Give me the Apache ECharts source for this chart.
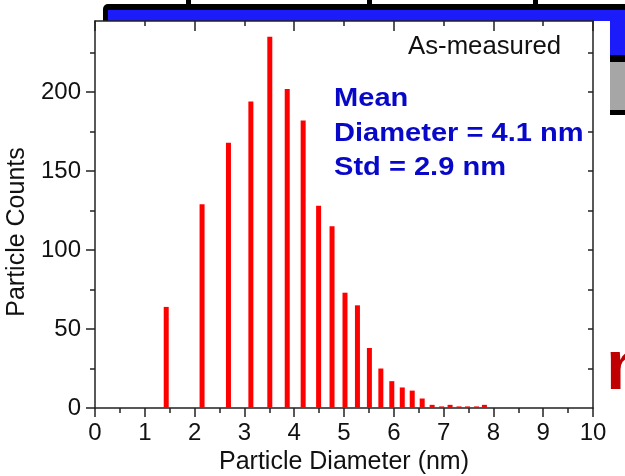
<!DOCTYPE html>
<html><head><meta charset="utf-8">
<script src="https://cdn.jsdelivr.net/npm/echarts@6/dist/echarts.min.js"></script>
<style>html,body{margin:0;padding:0;background:#fff}#c{width:625px;height:476px}</style>
</head><body><div id="c"></div>
<script>
// ---- data ----
const diameters = [1.43, 2.15, 2.68, 3.13, 3.51, 3.86, 4.18, 4.49, 4.76, 5.02, 5.27, 5.51, 5.74, 5.96, 6.17, 6.37, 6.57, 6.77, 6.96, 7.13, 7.31, 7.48, 7.66, 7.82];
const counts    = [64, 129, 168, 194, 235, 202, 182, 128, 115, 73, 65, 38, 25, 17, 13, 11, 6, 2, 1, 2, 1, 1, 1, 2];
const yMajorTicks = [0, 50, 100, 150, 200];
const yMinorTicks = [25, 75, 125, 175, 225];
const yRightTicks = [25, 50, 75, 100, 125, 150, 175, 200, 225];
const xTitle = 'Particle Diameter (nm)';
const yTitle = 'Particle Counts';
const caseLabel = 'As-measured';
const statLines = ['Mean', 'Diameter = 4.1 nm', 'Std = 2.9 nm'];

const FONT = '"Liberation Sans", Arial, sans-serif';
const AX = '#222';
const chart = echarts.init(document.getElementById('c'), null, {renderer: 'canvas'});

const common = {min: 0, max: 10, type: 'value', splitLine: {show: false}};
const yCommon = {type: 'value', min: 0, max: 245, splitLine: {show: false}};
const statStyle = (t) => ({text: t, font: 'bold 25.5px ' + FONT, fill: '#0808c8', verticalAlign: 'middle'});

chart.setOption({
  animation: false,
  backgroundColor: '#ffffff',
  grid: {left: 95, right: 32, top: 21, bottom: 68, containLabel: false, outerBoundsMode: 'none'},
  xAxis: [
    Object.assign({}, common, {
      position: 'bottom', interval: 1,
      axisLine: {show: true, onZero: false, lineStyle: {color: AX, width: 1.5}},
      axisTick: {show: true, inside: false, length: 9, lineStyle: {color: AX, width: 1.5}},
      minorTick: {show: true, splitNumber: 2, length: 5, lineStyle: {color: AX, width: 1.5}},
      axisLabel: {show: true, margin: 13, fontFamily: FONT, fontSize: 24, color: '#111'},
      name: xTitle, nameLocation: 'middle', nameGap: 38,
      nameTextStyle: {fontFamily: FONT, fontSize: 25, color: '#111'}
    }),
    Object.assign({}, common, {
      position: 'top', interval: 2,
      axisLine: {show: true, onZero: false, lineStyle: {color: AX, width: 1.5}},
      axisTick: {show: true, inside: true, length: 10, lineStyle: {color: AX, width: 1.5}},
      minorTick: {show: true, splitNumber: 2, length: 5, lineStyle: {color: AX, width: 1.5}},
      axisLabel: {show: false}
    })
  ],
  yAxis: [
    Object.assign({}, yCommon, {
      position: 'left',
      axisLine: {show: true, onZero: false, lineStyle: {color: AX, width: 1.5}},
      axisTick: {show: true, inside: false, length: 9, customValues: yMajorTicks, lineStyle: {color: AX, width: 1.5}},
      axisLabel: {show: true, margin: 14, customValues: yMajorTicks, fontFamily: FONT, fontSize: 24, color: '#111'}
    }),
    Object.assign({}, yCommon, {
      position: 'left',
      axisLine: {show: false},
      axisTick: {show: true, inside: false, length: 5, customValues: yMinorTicks, lineStyle: {color: AX, width: 1.5}},
      axisLabel: {show: false}
    }),
    Object.assign({}, yCommon, {
      position: 'right',
      axisLine: {show: true, onZero: false, lineStyle: {color: AX, width: 1.5}},
      axisTick: {show: true, inside: true, length: 5, customValues: yRightTicks, lineStyle: {color: AX, width: 1.5}},
      axisLabel: {show: false}
    })
  ],
  series: [{
    type: 'bar',
    xAxisIndex: 0, yAxisIndex: 0,
    barWidth: 5,
    itemStyle: {color: '#ff0000'},
    data: diameters.map((d, i) => [d, counts[i]])
  }],
  graphic: [
    // slide background remnants
    {type: 'rect', z: -20, shape: {x: 103, y: 4, width: 540, height: 58, r: 5}, style: {fill: '#000'}},
    {type: 'rect', z: -19, shape: {x: 108, y: 10, width: 540, height: 45}, style: {fill: '#1c1cfa'}},
    {type: 'rect', z: -19, shape: {x: 610, y: 62, width: 20, height: 48}, style: {fill: '#a6a6a6'}},
    {type: 'rect', z: -19, shape: {x: 610, y: 110, width: 20, height: 5}, style: {fill: '#000'}},
    {type: 'rect', z: -19, shape: {x: 186, y: 0, width: 5, height: 5}, style: {fill: '#000'}},
    {type: 'rect', z: -19, shape: {x: 367, y: 0, width: 5, height: 5}, style: {fill: '#000'}},
    {type: 'rect', z: -19, shape: {x: 533, y: 0, width: 5, height: 5}, style: {fill: '#000'}},
    {type: 'text', z: -19, x: 606, y: 370, style: {text: 'n', font: 'bold 70px ' + FONT, fill: '#c00000', verticalAlign: 'middle', align: 'left'}},
    {type: 'rect', z: -18, shape: {x: 0, y: 21, width: 610, height: 455}, style: {fill: '#fff'}},
    // annotations
    {type: 'text', z: 10, x: 408, y: 47, scaleX: 1.03, style: {text: caseLabel, font: '25px ' + FONT, fill: '#111', verticalAlign: 'middle'}},
    {type: 'text', z: 10, x: 334, y: 99, scaleX: 1.14, style: statStyle(statLines[0])},
    {type: 'text', z: 10, x: 334, y: 134, scaleX: 1.14, style: statStyle(statLines[1])},
    {type: 'text', z: 10, x: 334, y: 168, scaleX: 1.14, style: statStyle(statLines[2])},
    {type: 'text', z: 10, x: 17, y: 232, rotation: Math.PI / 2, style: {text: yTitle, font: '25px ' + FONT, fill: '#111', verticalAlign: 'middle', align: 'center'}}
  ]
});
</script></body></html>
